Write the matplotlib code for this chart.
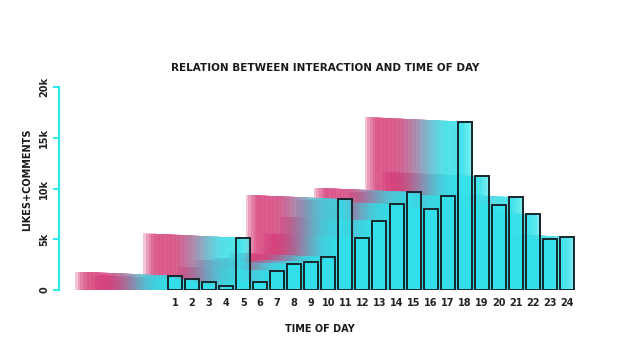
import numpy as np
import matplotlib.pyplot as plt
from matplotlib.colors import to_rgb

hours = list(range(1, 25))
hour_labels = [str(h) for h in hours]
interactions = [1400, 1050, 750, 400, 5150, 750, 1850, 2550, 2750, 3250, 8950, 5150,
                6800, 8450, 9650, 8000, 9250, 16600, 11200, 8400, 9150, 7450, 5000, 5250]
y_ticks = [0, 5000, 10000, 15000, 20000]
y_tick_labels = ['0', '5k', '10k', '15k', '20k']

pink = np.array(to_rgb('#d6407a'))
cyan = np.array(to_rgb('#34dfe8'))
bar_w = 0.82
trail_len = 5.45   # how far the ghost copies reach to the left (in hours)
n_copies = 36


def trail_color(t):
    # pink on the far left, fading to cyan towards the bar
    s = np.clip((t - 0.25) / 0.6, 0, 1)
    s = s * s * (3 - 2 * s)
    return pink * (1 - s) + cyan * s


fig = plt.figure(figsize=(6.2, 3.56), dpi=100)
ax = fig.add_axes([59 / 620, 66 / 356, 541 / 620, 203 / 356])

# ghost trails: one layer per step, so the cyan (near) copies of every bar
# sit on top of the pink (far) copies of the others
order = np.argsort(interactions)[::-1]
xs = np.array(hours)[order]
vs = np.array(interactions)[order]
for t in np.linspace(0, 1, n_copies):
    ax.bar(xs - trail_len * (1 - t), vs + 420 * (1 - t), width=bar_w,
           color=trail_color(t), alpha=0.3, linewidth=0, zorder=1)

# the actual bars on top
ax.bar(hours, interactions, width=bar_w, color='#30e4ec', alpha=0.5,
       linewidth=0, zorder=3)
ax.bar(hours, interactions, width=bar_w, color='none',
       edgecolor='#15272c', linewidth=1.4, zorder=4)

ax.set_xlim(1 - 116 / 17.04, 1 + 425 / 17.04)
ax.set_ylim(0, 20000)

for s in ['top', 'right', 'bottom']:
    ax.spines[s].set_visible(False)
ax.spines['left'].set_color('#2ee8f0')
ax.spines['left'].set_linewidth(1.6)

ax.set_yticks(y_ticks)
ax.set_yticklabels(y_tick_labels, rotation=90, va='center', fontsize=7,
                   fontweight='bold', color='#222222')
ax.tick_params(axis='y', colors='#2ee8f0', length=4, width=1.4, pad=3, labelcolor='#222222')

ax.set_xticks(hours)
ax.set_xticklabels(hour_labels, fontsize=7, fontweight='bold', color='#222222')
ax.tick_params(axis='x', length=0, pad=6)

fig.text(325 / 620, 1 - 68 / 356, 'RELATION BETWEEN INTERACTION AND TIME OF DAY',
         ha='center', va='center', fontsize=7.5, fontweight='bold', color='#1a1a1a')
fig.text(320 / 620, 1 - 329 / 356, 'TIME OF DAY', ha='center', va='center',
         fontsize=7, fontweight='bold', color='#1a1a1a')
fig.text(27 / 620, 1 - 180 / 356, 'LIKES+COMMENTS', ha='center', va='center',
         rotation=90, fontsize=7, fontweight='bold', color='#1a1a1a')

fig.savefig('out.png', dpi=100)
